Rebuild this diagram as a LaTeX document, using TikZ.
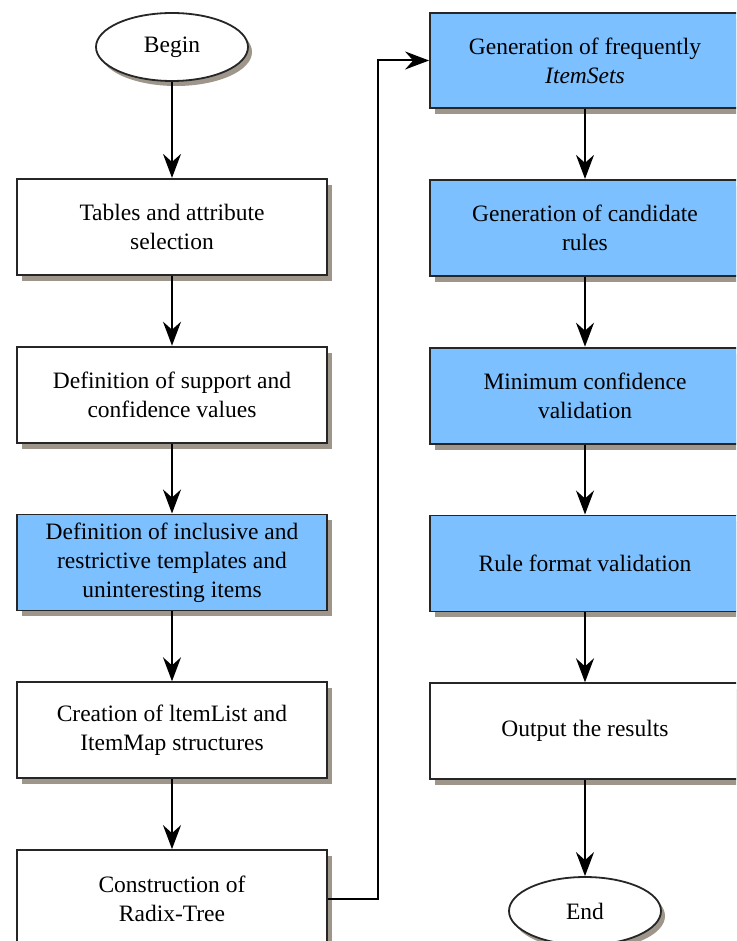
\documentclass[tikz,border=0pt]{standalone}
\usepackage{fontspec}
\setmainfont{Liberation Serif}
\usepackage{tikz}
\usetikzlibrary{arrows.meta,positioning,shapes.geometric,shadows}
\definecolor{stepblue}{RGB}{124,192,255}
\definecolor{shadowgrey}{RGB}{158,150,138}
\tikzset{
    every node/.style={font=\fontsize{23.5}{29}\selectfont},
    box node/.style={rectangle,draw=black!85,line width=1.8pt,fill=white,
        minimum width=310pt,minimum height=96pt,align=center,
        drop shadow={shadow xshift=5pt,shadow yshift=-6pt,fill=shadowgrey,opacity=1}},
    blue node/.style={box node,fill=stepblue},
    end node/.style={ellipse,draw=black!85,line width=1.8pt,fill=white,
        minimum width=152pt,minimum height=68pt,inner sep=0pt,
        drop shadow={shadow xshift=4pt,shadow yshift=-5pt,fill=shadowgrey,opacity=1}},
    flow/.style={line width=2pt,-{Stealth[length=24pt,width=18pt,inset=8pt]}}
}

\begin{document}
\begin{tikzpicture}[
            x = 1pt, y = 1pt,
            node distance = 70pt % distance between boxes
        ]
        \useasboundingbox (0,0) rectangle (736,-941);
        \clip (0,0) rectangle (736,-941);

        % left column
        \node[end node] (begin) at (172,-47) {Begin};
        \node[box node] [below=96pt of begin] (tables) {Tables and attribute\\selection};
        \node[box node] [below=of tables] (support) {Definition of support and\\confidence values};
        \node[blue node] [below=of support] (templates) {Definition of inclusive and\\restrictive templates and\\uninteresting items};
        \node[box node] [below=of templates] (itemlist) {Creation of ltemList and\\ItemMap structures};
        \node[box node, minimum height=98pt] [below=of itemlist] (radix) {Construction of\\Radix-Tree};

        % right column
        \node[blue node, minimum height=95pt] (frequent) at (585,-60.5) {Generation of frequently\\\textit{ItemSets}};
        \node[blue node] [below=of frequent] (candidate) {Generation of candidate\\rules};
        \node[blue node] [below=of candidate] (confidence) {Minimum confidence\\validation};
        \node[blue node] [below=of confidence] (format) {Rule format validation};
        \node[box node] [below=of format] (output) {Output the results};
        \node[end node] [below=96pt of output] (end) {End};

        \coordinate (turn) at (378,0);

        \draw[flow] (begin) -- (tables);
        \draw[flow] (tables) -- (support);
        \draw[flow] (support) -- (templates);
        \draw[flow] (templates) -- (itemlist);
        \draw[flow] (itemlist) -- (radix);
        \draw[flow] (radix.east) -- (radix.east -| turn) |- (frequent.west);
        \draw[flow] (frequent) -- (candidate);
        \draw[flow] (candidate) -- (confidence);
        \draw[flow] (confidence) -- (format);
        \draw[flow] (format) -- (output);
        \draw[flow] (output) -- (end);

  \end{tikzpicture}
\end{document}
